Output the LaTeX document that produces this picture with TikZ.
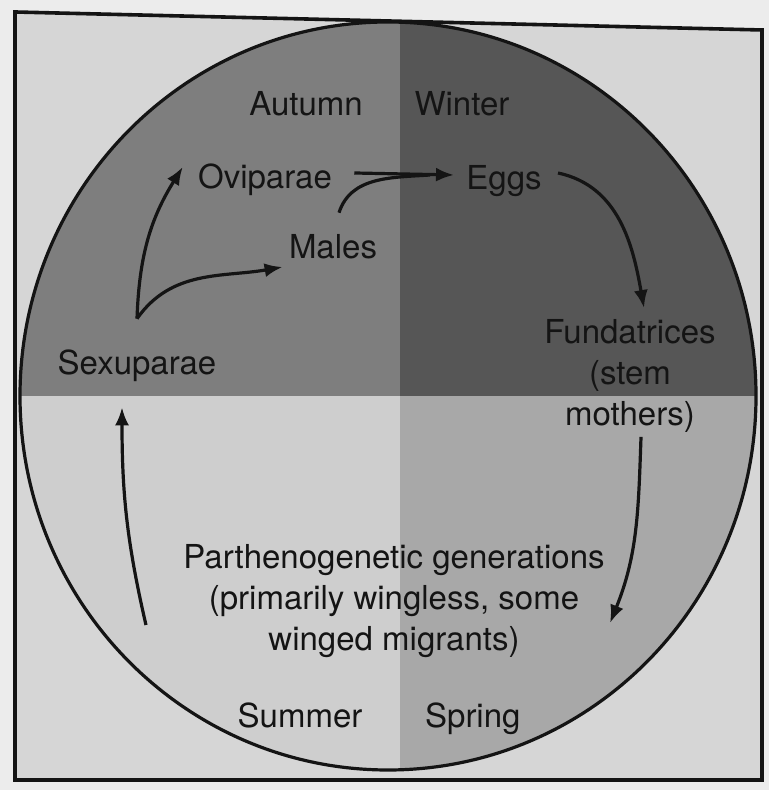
\documentclass[tikz,border=0pt]{standalone}
\usepackage{fontspec}
\setmainfont{TeX Gyre Heros}
\usetikzlibrary{positioning,arrows.meta}
\definecolor{outside}{RGB}{236,236,236}
\definecolor{paper}{RGB}{214,214,214}
\definecolor{autumngray}{RGB}{126,126,126}
\definecolor{wintergray}{RGB}{86,86,86}
\definecolor{summergray}{RGB}{206,206,206}
\definecolor{springgray}{RGB}{168,168,168}
\definecolor{ink}{RGB}{20,20,20}

\begin{document}
\begin{tikzpicture}[x=0.5pt,y=0.5pt,
        lbl/.style={font=\fontsize{16.5}{20.5}\selectfont,text=ink,inner sep=2pt,
                    text height=11.9pt,text depth=0pt},
        blk/.style={font=\fontsize{16.5}{20.5}\selectfont,text=ink,inner sep=2pt,align=center},
        arr/.style={-{Latex[length=9pt,width=7pt]},line width=1.6pt,draw=ink},
        lne/.style={line width=1.6pt,draw=ink}]
        \useasboundingbox (0,0) rectangle (769,790);
        \fill[outside] (0,0) rectangle (769,790);
        % page frame
        \fill[paper] (15,778) -- (762,760) -- (762,10) -- (15,10) -- cycle;
        % seasons
        \begin{scope}
            \clip (388,394) ellipse [x radius=368, y radius=374];
            \fill[autumngray] (0,394) rectangle (400,790);
            \fill[wintergray] (400,394) rectangle (769,790);
            \fill[summergray] (0,0) rectangle (400,394);
            \fill[springgray] (400,0) rectangle (769,394);
        \end{scope}
        \draw[line width=1.6pt,ink] (388,394) ellipse [x radius=368, y radius=374];
        \draw[line width=1.8pt,ink] (15,778) -- (762,760) -- (762,10) -- (15,10) -- cycle;

        \node[lbl] (aut) at (306,686) {Autumn};
        \node[lbl,right=21.5pt of aut] (win) {Winter};
        \node[lbl] (sum) at (300,74) {Summer};
        \node[lbl,right=27pt of sum] (spr) {Spring};

        \node[lbl] (ovi) at (265,613) {Oviparae};
        \node[lbl] (eggs) at (504,612) {Eggs};
        \node[lbl] (males) at (333,543) {Males};
        \node[lbl] (sexu) at (137,427) {Sexuparae};
        \node[blk] (fund) at (630,414) {Fundatrices\\(stem\\mothers)};
        \node[blk] (parth) at (394,189)
            {Parthenogenetic generations\\(primarily wingless, some\\winged migrants)};

        \coordinate (fork) at ([yshift=14pt]sexu.north);
        \coordinate (eggsin) at ([shift={(-8,3)}]eggs.west);
        \draw[arr] (fork) to[out=88,in=238] ([shift={(-11,10)}]ovi.west);
        \draw[arr] (fork) to[out=55,in=190] ([shift={(-2,-20)}]males.west);
        \draw[arr] ([shift={(18,4)}]ovi.east) -- (eggsin);
        \draw[lne] ([shift={(6,18)}]males.north) to[out=72,in=184] ([xshift=-12pt]eggsin);
        \draw[arr] ([shift={(12,5)}]eggs.east) to[out=-12,in=100] ([shift={(14,7)}]fund.north);
        \draw[arr] ([xshift=5.5pt]fund.south) to[out=-92,in=68] ([shift={(1,-22)}]parth.east);
        \draw[arr] ([shift={(-33,-24)}]parth.west) to[out=103,in=-90] ([shift={(-15,-28)}]sexu.south);
    \end{tikzpicture}
\end{document}
